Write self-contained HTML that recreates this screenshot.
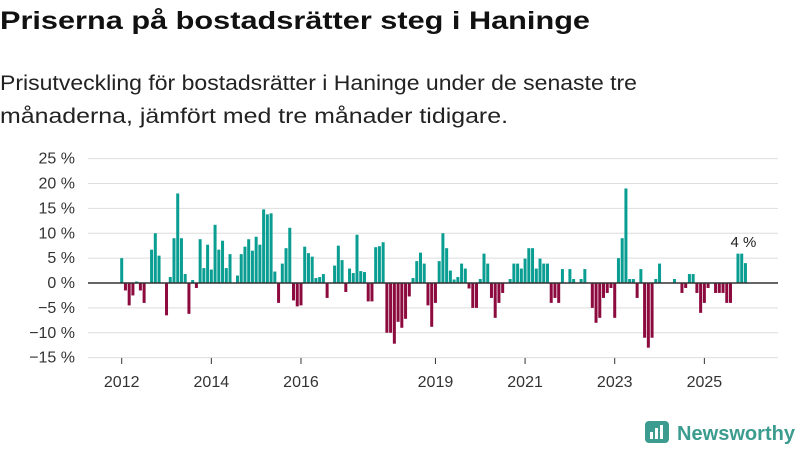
<!DOCTYPE html>
<html><head><meta charset="utf-8">
<style>
html,body{margin:0;padding:0;background:#fff;width:800px;height:450px;overflow:hidden}
svg{display:block;font-family:"Liberation Sans","DejaVu Sans",sans-serif}
</style></head>
<body>
<svg id="chart" width="800" height="450" viewBox="0 0 800 450">
  <text x="0" y="29" font-size="25" font-weight="bold" fill="#111" textLength="590" lengthAdjust="spacingAndGlyphs">Priserna på bostadsrätter steg i Haninge</text>
  <text x="0" y="90" font-size="21" fill="#222" textLength="637" lengthAdjust="spacingAndGlyphs">Prisutveckling för bostadsrätter i Haninge under de senaste tre</text>
  <text x="0" y="123" font-size="21" fill="#222" textLength="508" lengthAdjust="spacingAndGlyphs">månaderna, jämfört med tre månader tidigare.</text>
  <g id="grid"></g>
  <g id="bars"></g>
  <g id="xaxis"></g>
  <g>
    <rect x="645" y="421" width="24" height="22" rx="4" fill="#3c9c8f"/>
    <rect x="650" y="432" width="3" height="7" fill="#fff"/>
    <rect x="655" y="428" width="3" height="11" fill="#fff"/>
    <rect x="660" y="425" width="3" height="14" fill="#fff"/>
    <text x="677" y="440" font-size="20" font-weight="bold" fill="#3c9c8f" textLength="118" lengthAdjust="spacingAndGlyphs">Newsworthy</text>
  </g>
</svg>
<script>
const startYear = 2012;
const values = [5,-1.5,-4.5,-2.5,0.3,-1.5,-4,null,6.7,10,5.5,null,-6.5,1.2,9,18,9,1.8,-6.2,0.6,-1,8.8,3,7.7,2.7,11.7,6.7,8.5,3,5.8,null,1.5,5.8,7.3,8.8,6.5,9.3,7.7,14.8,13.8,14,2.3,-4,3.9,7,11.1,-3.5,-4.7,-4.5,7.3,6,5.3,1,1.2,1.8,-3,null,3.5,7.5,4.6,-1.8,2.9,2,9.7,2.4,2.2,-3.7,-3.7,7.2,7.4,8.2,-10,-10,-12.2,-7.8,-9,-7.2,-2.7,1,4.4,6.1,3.9,-4.5,-8.8,-4,4.4,10,7,2.5,0.7,1.2,3.9,2.9,-1.1,-5,-5,0.8,5.9,3.9,-3,-7,-4,-2,null,0.8,3.9,3.9,2.9,4.9,7,7,2.9,4.9,3.9,3.9,-4,-3,-4,2.8,null,2.8,0.8,null,0.8,2.8,null,-5,-8,-7,-3,-2,-1,-7,5,9,19,0.8,0.8,-3,2.8,-11,-13,-11,0.8,3.9,null,null,null,0.8,null,-2,-1,1.8,1.8,-2,-6,-4,-1,null,-2,-2,-2,-4,-4,null,5.9,5.9,4];
const yTicks = [25,20,15,10,5,0,-5,-10,-15];
const yTickLabels = ["25 %","20 %","15 %","10 %","5 %","0 %","−5 %","−10 %","−15 %"];
const xTickYears = [2012,2014,2016,2019,2021,2023,2025];
const lastLabel = "4 %";

const NS = "http://www.w3.org/2000/svg";
const y = v => 283 - v * 4.975;
const x = i => 121.7 + i * 3.735;
const mk = (tag, attrs, parent) => { const e = document.createElementNS(NS, tag); for (const k in attrs) e.setAttribute(k, attrs[k]); parent.appendChild(e); return e; };

const grid = document.getElementById('grid');
yTicks.forEach((t, k) => {
  if (t !== 0) {
    const l = mk('line', {x1: 88, x2: 778, y1: y(t), y2: y(t), stroke: '#dedede', 'stroke-width': 1}, grid);
    
    
  }
  const tx = mk('text', {x: 75, y: y(t) + 5, 'font-size': 16, fill: '#333', 'text-anchor': 'end'}, grid);
  tx.textContent = yTickLabels[k];
  
  
});

const bars = document.getElementById('bars');
values.forEach((v, i) => {
  if (v === null) return;
  const r = mk('rect', {x: x(i) - 1.5, width: 3, y: Math.min(y(v), y(0)), height: Math.max(0.8, Math.abs(y(v) - y(0))), fill: v >= 0 ? '#0a9e92' : '#8c0a3e'}, bars);
  
  
});
const lastIdx = values.length - 1;
const ann = mk('text', {x: x(lastIdx) - 2, y: y(values[lastIdx]) - 16, 'font-size': 15, fill: '#222', 'text-anchor': 'middle'}, bars);
ann.textContent = lastLabel;



const xa = document.getElementById('xaxis');
const zl = mk('line', {x1: 88, x2: 778, y1: y(0), y2: y(0), stroke: '#333', 'stroke-width': 1.5}, xa);


xTickYears.forEach(yr => {
  const xi = x((yr - startYear) * 12);
  const tk = mk('line', {x1: xi, x2: xi, y1: 358, y2: 364, stroke: '#333', 'stroke-width': 1}, xa);
  
  
  const t = mk('text', {x: xi, y: 387, 'font-size': 16, fill: '#333', 'text-anchor': 'middle'}, xa);
  t.textContent = yr;
  
  
});
</script>
</body></html>
